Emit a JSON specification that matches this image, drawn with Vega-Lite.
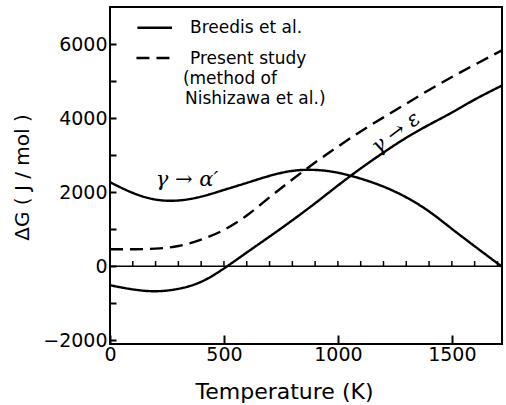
{
  "$schema": "https://vega.github.io/schema/vega-lite/v6.json",
  "width": 392,
  "height": 337,
  "autosize": {"type": "none"},
  "padding": {"left": 110, "top": 7, "right": 4, "bottom": 61},
  "background": "white",
  "config": {
    "view": {"stroke": "black", "strokeWidth": 2},
    "font": "DejaVu Sans",
    "axis": {"domain": false, "grid": false, "tickColor": "black", "labelColor": "black", "titleColor": "black", "titleFontWeight": "normal", "labelFont": "DejaVu Sans", "titleFont": "DejaVu Sans", "labelFlush": false}
  },
  "datasets": {
    "curves": [
      {"curve": "alpha", "source": "Breedis et al.", "T": 0, "dG": 2270},
      {"curve": "alpha", "source": "Breedis et al.", "T": 100, "dG": 1980},
      {"curve": "alpha", "source": "Breedis et al.", "T": 200, "dG": 1800},
      {"curve": "alpha", "source": "Breedis et al.", "T": 300, "dG": 1775},
      {"curve": "alpha", "source": "Breedis et al.", "T": 400, "dG": 1880},
      {"curve": "alpha", "source": "Breedis et al.", "T": 500, "dG": 2060},
      {"curve": "alpha", "source": "Breedis et al.", "T": 600, "dG": 2250},
      {"curve": "alpha", "source": "Breedis et al.", "T": 700, "dG": 2440},
      {"curve": "alpha", "source": "Breedis et al.", "T": 800, "dG": 2575},
      {"curve": "alpha", "source": "Breedis et al.", "T": 900, "dG": 2600},
      {"curve": "alpha", "source": "Breedis et al.", "T": 1000, "dG": 2525},
      {"curve": "alpha", "source": "Breedis et al.", "T": 1100, "dG": 2365},
      {"curve": "alpha", "source": "Breedis et al.", "T": 1200, "dG": 2150},
      {"curve": "alpha", "source": "Breedis et al.", "T": 1300, "dG": 1860},
      {"curve": "alpha", "source": "Breedis et al.", "T": 1400, "dG": 1480},
      {"curve": "alpha", "source": "Breedis et al.", "T": 1500, "dG": 1010},
      {"curve": "alpha", "source": "Breedis et al.", "T": 1600, "dG": 540},
      {"curve": "alpha", "source": "Breedis et al.", "T": 1700, "dG": 80},
      {"curve": "alpha", "source": "Breedis et al.", "T": 1720, "dG": 0},
      {"curve": "eps", "source": "Breedis et al.", "T": 0, "dG": -513},
      {"curve": "eps", "source": "Breedis et al.", "T": 100, "dG": -625},
      {"curve": "eps", "source": "Breedis et al.", "T": 200, "dG": -675},
      {"curve": "eps", "source": "Breedis et al.", "T": 300, "dG": -610},
      {"curve": "eps", "source": "Breedis et al.", "T": 400, "dG": -420},
      {"curve": "eps", "source": "Breedis et al.", "T": 500, "dG": -60},
      {"curve": "eps", "source": "Breedis et al.", "T": 600, "dG": 370},
      {"curve": "eps", "source": "Breedis et al.", "T": 700, "dG": 800},
      {"curve": "eps", "source": "Breedis et al.", "T": 800, "dG": 1240},
      {"curve": "eps", "source": "Breedis et al.", "T": 900, "dG": 1700},
      {"curve": "eps", "source": "Breedis et al.", "T": 1000, "dG": 2180},
      {"curve": "eps", "source": "Breedis et al.", "T": 1100, "dG": 2640},
      {"curve": "eps", "source": "Breedis et al.", "T": 1200, "dG": 3070},
      {"curve": "eps", "source": "Breedis et al.", "T": 1300, "dG": 3470},
      {"curve": "eps", "source": "Breedis et al.", "T": 1400, "dG": 3820},
      {"curve": "eps", "source": "Breedis et al.", "T": 1500, "dG": 4150},
      {"curve": "eps", "source": "Breedis et al.", "T": 1600, "dG": 4500},
      {"curve": "eps", "source": "Breedis et al.", "T": 1720, "dG": 4880},
      {"curve": "present", "source": "Present study", "T": 0, "dG": 460},
      {"curve": "present", "source": "Present study", "T": 100, "dG": 460},
      {"curve": "present", "source": "Present study", "T": 200, "dG": 475},
      {"curve": "present", "source": "Present study", "T": 300, "dG": 545},
      {"curve": "present", "source": "Present study", "T": 400, "dG": 720},
      {"curve": "present", "source": "Present study", "T": 500, "dG": 980},
      {"curve": "present", "source": "Present study", "T": 600, "dG": 1370},
      {"curve": "present", "source": "Present study", "T": 700, "dG": 1860},
      {"curve": "present", "source": "Present study", "T": 800, "dG": 2340},
      {"curve": "present", "source": "Present study", "T": 900, "dG": 2800},
      {"curve": "present", "source": "Present study", "T": 1000, "dG": 3230},
      {"curve": "present", "source": "Present study", "T": 1100, "dG": 3640},
      {"curve": "present", "source": "Present study", "T": 1200, "dG": 4020},
      {"curve": "present", "source": "Present study", "T": 1300, "dG": 4390},
      {"curve": "present", "source": "Present study", "T": 1400, "dG": 4760},
      {"curve": "present", "source": "Present study", "T": 1500, "dG": 5110},
      {"curve": "present", "source": "Present study", "T": 1600, "dG": 5440},
      {"curve": "present", "source": "Present study", "T": 1720, "dG": 5830}
    ],
    "legendLines": [
      {"source": "Breedis et al.", "T1": 120, "T2": 272, "dG": 6441},
      {"source": "Present study", "T1": 116, "T2": 272, "dG": 5623}
    ],
    "legendText": [
      {"text": "Breedis  et al.", "T": 351, "dG": 6298},
      {"text": "Present study", "T": 351, "dG": 5460},
      {"text": "(method of", "T": 320, "dG": 4920},
      {"text": "Nishizawa et al.)", "T": 329, "dG": 4380}
    ],
    "zeroTicks": [
      {"T": 100}, {"T": 200}, {"T": 300}, {"T": 400}, {"T": 500}, {"T": 600},
      {"T": 700}, {"T": 800}, {"T": 900}, {"T": 1000}, {"T": 1100}, {"T": 1200},
      {"T": 1300}, {"T": 1400}, {"T": 1500}, {"T": 1600}, {"T": 1700}
    ],
    "annotAlpha": [{"text": "γ → α′", "T": 338, "dG": 2329}],
    "annotEps": [{"text": "γ → ε", "T": 1255, "dG": 3598}]
  },
  "layer": [
    {
      "data": {"name": "curves"},
      "mark": {"type": "line", "interpolate": "natural", "strokeWidth": 2.4, "color": "black", "clip": true},
      "encoding": {
        "x": {
          "field": "T", "type": "quantitative",
          "scale": {"domain": [0, 1720], "nice": false, "zero": false},
          "axis": {
            "title": "Temperature (K)",
            "values": [0, 500, 1000, 1500],
            "format": "d",
            "tickSize": -9, "tickWidth": 2,
            "labelPadding": 10, "labelFontSize": 19,
            "titleFontSize": 22, "titleX": 174, "titleY": 54,
            "titleBaseline": "alphabetic", "titleAlign": "center"
          }
        },
        "y": {
          "field": "dG", "type": "quantitative",
          "scale": {"domain": [-2100, 7000], "nice": false, "zero": false},
          "axis": {
            "title": "ΔG ( J / mol )",
            "values": [-2000, -1000, 0, 1000, 2000, 3000, 4000, 5000, 6000],
            "format": "d",
            "labelExpr": "datum.value % 2000 == 0 ? datum.label : ''",
            "tickSize": -6, "tickWidth": 2,
            "labelPadding": 9, "labelFontSize": 19,
            "titleFontSize": 20, "titleX": -88, "titleY": 170,
            "titleBaseline": "middle", "titleAlign": "center"
          }
        },
        "detail": {"field": "curve"},
        "strokeDash": {
          "field": "source", "type": "nominal",
          "scale": {"domain": ["Breedis et al.", "Present study"], "range": [[1, 0], [13, 7]]},
          "legend": null
        }
      }
    },
    {
      "data": {"values": [{}]},
      "mark": {"type": "rule", "color": "black", "strokeWidth": 1.5},
      "encoding": {"y": {"datum": 0, "type": "quantitative"}}
    },
    {
      "data": {"name": "zeroTicks"},
      "mark": {"type": "rule", "color": "black", "strokeWidth": 1.5},
      "encoding": {
        "x": {"field": "T", "type": "quantitative"},
        "y": {"datum": 0, "type": "quantitative"},
        "y2": {"datum": 140}
      }
    },
    {
      "data": {"name": "legendLines"},
      "mark": {"type": "rule", "color": "black", "strokeWidth": 2.4},
      "encoding": {
        "x": {"field": "T1", "type": "quantitative"},
        "x2": {"field": "T2"},
        "y": {"field": "dG", "type": "quantitative"},
        "strokeDash": {"field": "source", "type": "nominal", "legend": null}
      }
    },
    {
      "data": {"name": "legendText"},
      "mark": {"type": "text", "align": "left", "baseline": "alphabetic", "fontSize": 17, "font": "DejaVu Sans", "color": "black"},
      "encoding": {
        "x": {"field": "T", "type": "quantitative"},
        "y": {"field": "dG", "type": "quantitative"},
        "text": {"field": "text"}
      }
    },
    {
      "data": {"name": "annotAlpha"},
      "mark": {"type": "text", "align": "center", "baseline": "middle", "fontSize": 21, "font": "DejaVu Serif", "fontStyle": "italic", "color": "black"},
      "encoding": {
        "x": {"field": "T", "type": "quantitative"},
        "y": {"field": "dG", "type": "quantitative"},
        "text": {"field": "text"}
      }
    },
    {
      "data": {"name": "annotEps"},
      "mark": {"type": "text", "align": "center", "baseline": "middle", "fontSize": 21, "font": "DejaVu Serif", "fontStyle": "italic", "color": "black", "angle": -37},
      "encoding": {
        "x": {"field": "T", "type": "quantitative"},
        "y": {"field": "dG", "type": "quantitative"},
        "text": {"field": "text"}
      }
    }
  ]
}
